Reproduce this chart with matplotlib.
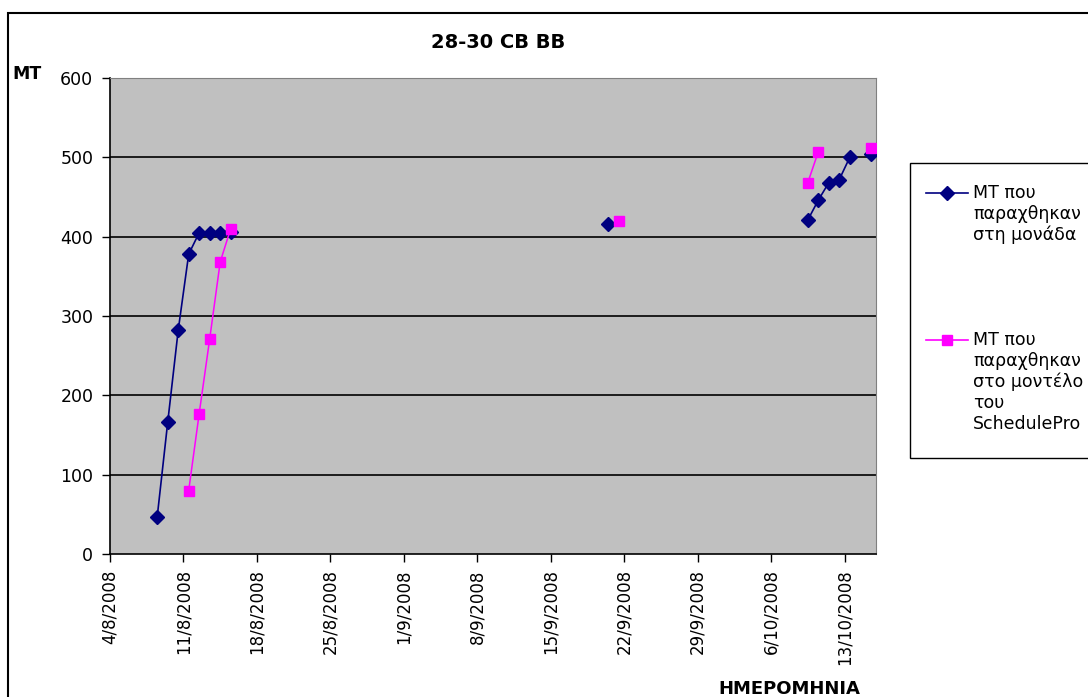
import pandas as pd
import matplotlib
matplotlib.use('Agg')
import matplotlib.pyplot as plt
from matplotlib.lines import Line2D
from matplotlib.patches import Rectangle

# daily readings (day/month/year), missing days leave gaps in the lines
unit_dates = ['8/8/2008', '9/8/2008', '10/8/2008', '11/8/2008', '12/8/2008',
              '13/8/2008', '14/8/2008', '15/8/2008', '20/9/2008',
              '9/10/2008', '10/10/2008', '11/10/2008', '12/10/2008',
              '13/10/2008', '15/10/2008']
unit_mt = [47, 166, 282, 378, 405, 405, 405, 406, 416,
           421, 446, 468, 472, 500, 504]

model_dates = ['11/8/2008', '12/8/2008', '13/8/2008', '14/8/2008', '15/8/2008',
               '21/9/2008', '9/10/2008', '10/10/2008', '15/10/2008']
model_mt = [80, 177, 271, 368, 410, 420, 468, 507, 512]

tick_dates = ['4/8/2008', '11/8/2008', '18/8/2008', '25/8/2008', '1/9/2008',
              '8/9/2008', '15/9/2008', '22/9/2008', '29/9/2008',
              '6/10/2008', '13/10/2008']

label_unit = 'ΜΤ που\nπαραχθηκαν\nστη μονάδα'
label_model = 'ΜΤ που\nπαραχθηκαν\nστο μοντέλο\nτου\nSchedulePro'

W, H = 1088, 697
start = pd.Timestamp(2008, 8, 4)
end = pd.Timestamp(2008, 10, 16)
days = pd.date_range(start, end - pd.Timedelta(days=1), freq='D')


def daily(dates, values):
    s = pd.Series(values, index=pd.to_datetime(dates, format='%d/%m/%Y'))
    s = s.reindex(days)
    # points sit in the middle of their day
    s.index = s.index + pd.Timedelta(hours=12)
    return s


unit = daily(unit_dates, unit_mt)
model = daily(model_dates, model_mt)

plt.rcParams['font.family'] = ['DejaVu Sans']
fig = plt.figure(figsize=(W / 100, H / 100), dpi=100)

# outer chart frame
fig.patches.append(Rectangle((8 / W, -0.1), 1.2, (H - 13) / H + 0.1,
                             transform=fig.transFigure, fill=False,
                             edgecolor='black', linewidth=1.5))

ax = fig.add_axes([110 / W, (H - 554) / H, (876 - 110) / W, (554 - 78) / H])
ax.set_facecolor('#C0C0C0')

ax.plot(unit.index, unit.values, color='#000080', linewidth=1.2,
        marker='D', markersize=7, markeredgecolor='#000080', zorder=3)
ax.plot(model.index, model.values, color='#FF00FF', linewidth=1.1,
        marker='s', markersize=6.5, markeredgecolor='#FF00FF', zorder=3)

ax.set_xlim(start, end)
ax.set_ylim(0, 600)
ax.set_yticks(range(0, 601, 100))
for v in range(100, 600, 100):
    ax.axhline(v, color='black', linewidth=1.2, zorder=1)

ticks = pd.to_datetime(tick_dates, format='%d/%m/%Y')
ax.set_xticks(ticks)
ax.set_xticklabels(tick_dates, rotation=90, fontsize=12)
ax.tick_params(axis='x', direction='out', length=6, width=1, pad=5)
ax.tick_params(axis='y', direction='out', length=6, width=1, pad=6,
               labelsize=12.5)

for side in ['top', 'right']:
    ax.spines[side].set_color('#808080')
for side in ['left', 'bottom']:
    ax.spines[side].set_color('black')
    ax.spines[side].set_linewidth(1.2)

fig.text(498 / W, 1 - 42 / H, '28-30 CB BB', ha='center', va='center',
         fontsize=14, fontweight='bold')
fig.text(12 / W, 1 - 74 / H, 'ΜΤ', ha='left', va='center',
         fontsize=12.5, fontweight='bold')
fig.text(789 / W, 1 - 689 / H, 'ΗΜΕΡΟΜΗΝΙΑ', ha='center', va='center',
         fontsize=13, fontweight='bold')

# legend box drawn by hand
fig.patches.append(Rectangle((910 / W, 1 - 458 / H), 0.2, (458 - 163) / H,
                             transform=fig.transFigure, facecolor='white',
                             edgecolor='black', linewidth=1))
entries = [(193, '#000080', 'D', 7, label_unit),
           (340, '#FF00FF', 's', 6.5, label_model)]
for y, c, m, ms, txt in entries:
    fig.add_artist(Line2D([926 / W, 968 / W], [1 - y / H, 1 - y / H],
                          color=c, linewidth=1.2, transform=fig.transFigure))
    fig.add_artist(Line2D([947 / W], [1 - y / H], color=c, marker=m,
                          markersize=ms, transform=fig.transFigure))
    fig.text(973 / W, 1 - (y - 9) / H, txt, ha='left', va='top',
             fontsize=12.5, linespacing=1.2)

fig.savefig('out.png', dpi=100)
